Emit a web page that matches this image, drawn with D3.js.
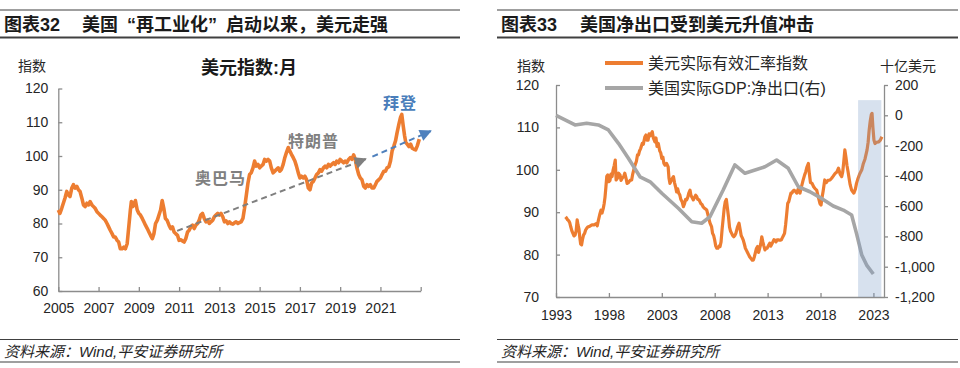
<!DOCTYPE html>
<html><head><meta charset="utf-8">
<script src="https://cdn.jsdelivr.net/npm/d3@7"></script>
<style>
body{margin:0;background:#fff}
svg{display:block}
text{font-family:"Liberation Sans","Noto Sans CJK SC",sans-serif}
</style>
</head><body>
<svg id="c" width="960" height="368"></svg>
<script>
// ---------- DATA ----------
// Left chart: US dollar index (monthly), [year position, value]
const usdIndex = [
[2005.00,84.0],[2005.08,83.0],[2005.17,84.5],[2005.25,86.0],[2005.33,87.5],[2005.42,89.5],[2005.50,88.5],[2005.58,88.0],[2005.67,90.5],[2005.75,91.5],[2005.83,90.5],[2005.92,91.0],
[2006.00,90.0],[2006.08,89.5],[2006.17,87.5],[2006.25,85.5],[2006.33,85.0],[2006.42,86.0],[2006.50,85.5],[2006.58,86.5],[2006.67,85.5],[2006.75,85.0],[2006.83,84.5],[2006.92,83.5],
[2007.00,83.0],[2007.08,82.5],[2007.17,82.0],[2007.25,81.5],[2007.33,81.0],[2007.42,80.0],[2007.50,79.0],[2007.58,78.0],[2007.67,77.0],[2007.75,76.0],[2007.83,76.0],[2007.92,75.0],
[2008.00,74.5],[2008.08,72.5],[2008.17,72.5],[2008.25,73.0],[2008.33,72.5],[2008.42,74.0],[2008.50,79.0],[2008.58,84.0],[2008.63,86.5],[2008.70,85.0],[2008.75,85.5],[2008.83,86.8],[2008.92,84.0],
[2009.00,83.0],[2009.08,82.5],[2009.17,81.5],[2009.25,80.5],[2009.33,79.5],[2009.42,78.5],[2009.50,77.5],[2009.58,76.5],[2009.67,75.5],[2009.75,77.0],[2009.83,80.0],[2009.92,81.0],
[2010.00,82.5],[2010.08,84.0],[2010.16,86.8],[2010.24,84.5],[2010.32,81.5],[2010.40,81.0],[2010.50,79.5],[2010.58,78.5],[2010.67,79.0],[2010.75,77.5],[2010.83,77.0],[2010.92,76.5],
[2011.00,75.0],[2011.08,75.2],[2011.17,74.8],[2011.25,74.5],[2011.33,75.5],[2011.42,77.5],[2011.50,78.0],[2011.58,79.0],[2011.67,79.5],[2011.75,78.5],[2011.83,79.5],[2011.92,80.0],
[2012.00,81.0],[2012.08,82.5],[2012.16,83.0],[2012.25,81.5],[2012.33,80.5],[2012.42,81.0],[2012.50,80.0],[2012.58,80.5],[2012.67,81.0],[2012.75,82.0],[2012.83,82.5],[2012.92,83.0],
[2013.00,82.5],[2013.08,83.0],[2013.17,82.0],[2013.25,80.5],[2013.33,80.8],[2013.42,80.0],[2013.50,80.5],[2013.58,80.0],[2013.67,79.8],[2013.75,80.2],[2013.83,80.5],[2013.92,80.0],
[2014.00,80.3],[2014.08,80.5],[2014.17,81.5],[2014.25,84.5],[2014.33,88.0],[2014.42,92.0],[2014.50,94.5],[2014.58,95.0],[2014.67,96.5],[2014.75,98.5],[2014.83,97.0],[2014.92,97.5],
[2015.00,96.5],[2015.08,97.0],[2015.17,97.5],[2015.25,99.0],[2015.33,98.5],[2015.42,99.0],[2015.50,98.5],[2015.58,96.5],[2015.67,95.0],[2015.75,95.5],[2015.83,96.0],[2015.92,96.5],
[2016.00,95.5],[2016.08,96.0],[2016.17,97.5],[2016.25,99.5],[2016.33,101.0],[2016.42,102.5],[2016.50,101.5],[2016.58,100.5],[2016.67,99.5],[2016.75,98.5],[2016.83,97.0],[2016.92,95.0],
[2017.00,93.5],[2017.08,94.0],[2017.17,93.5],[2017.25,94.0],[2017.33,93.0],[2017.42,90.5],[2017.50,90.0],[2017.58,92.0],[2017.67,92.5],[2017.75,93.5],[2017.83,94.5],[2017.92,95.0],
[2018.00,96.0],[2018.08,95.5],[2018.17,96.5],[2018.25,97.0],[2018.33,96.5],[2018.42,97.5],[2018.50,97.0],[2018.58,97.5],[2018.67,98.0],[2018.75,97.5],[2018.83,98.5],[2018.92,98.0],
[2019.00,99.0],[2019.08,98.5],[2019.17,98.0],[2019.25,98.5],[2019.33,98.0],[2019.42,99.0],[2019.50,99.5],[2019.58,99.0],[2019.67,100.3],[2019.75,99.0],[2019.83,96.5],[2019.92,94.5],
[2020.00,93.5],[2020.08,93.0],[2020.17,91.0],[2020.25,90.5],[2020.33,91.5],[2020.42,91.0],[2020.50,91.5],[2020.58,90.5],[2020.67,90.5],[2020.75,91.5],[2020.83,92.5],[2020.92,93.0],
[2021.00,93.5],[2021.08,94.5],[2021.17,95.5],[2021.25,95.5],[2021.33,96.5],[2021.42,96.8],[2021.50,98.5],[2021.58,101.5],[2021.67,103.0],[2021.75,104.5],[2021.83,107.0],[2021.92,109.5],
[2022.00,111.5],[2022.06,112.3],[2022.13,109.0],[2022.20,106.0],[2022.26,104.0],[2022.33,103.5],[2022.42,102.8],[2022.50,103.5],[2022.58,102.3],[2022.67,102.0],[2022.75,101.8],[2022.83,103.0],[2022.93,105.0]
];
const leftXTicks = [2005,2007,2009,2011,2013,2015,2017,2019,2021,2023];
const leftYTicks = [60,70,80,90,100,110,120];
// Annotations (data units): trend arrows and president labels
const trendArrows = [
  {from:[2010.9,77.8], to:[2020.27,99.1], color:"#7f7f7f"},
  {from:[2020.6,99.8], to:[2023.5,107.4], color:"#4f81bd"}
];
const presidentLabels = [
  {name:"奥巴马", at:[2011.79,91.7], color:"#808080"},
  {name:"特朗普", at:[2016.41,102.7], color:"#808080"},
  {name:"拜登",   at:[2021.13,113.9], color:"#4a7ebb"}
];

// Right chart: real effective USD index (left axis)
const reerIndex = [
[1993.90,88.9],[1994.00,88.6],[1994.10,88.2],[1994.20,88.0],[1994.30,87.5],[1994.40,86.5],[1994.50,85.6],[1994.60,85.0],[1994.70,84.4],[1994.80,84.6],[1994.90,85.5],
[1995.00,88.2],[1995.08,87.0],[1995.17,86.0],[1995.25,84.0],[1995.33,82.5],[1995.42,82.3],[1995.50,83.5],[1995.60,84.6],[1995.70,85.0],[1995.80,85.8],[1995.90,86.2],
[1996.00,86.5],[1996.20,86.7],[1996.40,87.0],[1996.60,87.0],[1996.80,87.3],[1996.90,86.8],[1997.00,88.0],[1997.16,89.7],[1997.25,90.5],[1997.35,89.8],[1997.47,90.9],
[1997.55,92.0],[1997.63,93.5],[1997.72,96.0],[1997.80,98.5],[1997.90,98.8],[1998.00,97.2],[1998.10,97.5],[1998.20,99.0],[1998.30,98.4],[1998.40,100.0],[1998.50,101.0],
[1998.60,102.3],[1998.68,97.6],[1998.80,98.0],[1998.92,99.2],[1999.05,98.8],[1999.15,97.5],[1999.25,98.0],[1999.40,98.4],[1999.50,99.2],[1999.62,98.0],[1999.72,96.8],
[1999.85,97.0],[2000.00,97.5],[2000.15,97.6],[2000.25,99.0],[2000.35,100.0],[2000.47,101.1],[2000.60,102.0],[2000.70,103.5],[2000.80,103.5],[2000.90,104.5],
[2001.00,105.0],[2001.15,106.2],[2001.25,106.0],[2001.40,107.8],[2001.50,108.2],[2001.60,107.0],[2001.70,107.0],[2001.80,108.5],[2001.90,108.0],[2002.00,108.5],
[2002.10,109.0],[2002.20,107.5],[2002.35,106.6],[2002.45,107.5],[2002.55,105.5],[2002.67,106.2],[2002.80,104.5],[2002.90,104.0],[2003.00,102.7],[2003.10,103.0],
[2003.20,101.5],[2003.30,101.1],[2003.45,101.5],[2003.60,100.7],[2003.68,98.0],[2003.77,96.8],[2003.90,97.5],[2004.00,98.0],[2004.10,98.4],[2004.20,97.0],
[2004.30,96.0],[2004.40,94.8],[2004.50,95.5],[2004.60,94.5],[2004.70,94.1],[2004.80,93.0],[2004.92,92.5],[2005.04,91.3],[2005.15,92.0],[2005.25,93.0],
[2005.35,92.9],[2005.45,93.5],[2005.55,94.5],[2005.67,95.2],[2005.75,94.0],[2005.85,93.5],[2005.98,92.9],[2006.10,93.5],[2006.20,94.0],[2006.30,93.7],
[2006.40,93.0],[2006.50,93.0],[2006.60,92.5],[2006.70,92.0],[2006.80,91.8],[2006.90,91.3],[2007.00,91.0],[2007.10,90.8],[2007.25,90.5],[2007.35,89.5],
[2007.45,88.5],[2007.55,87.5],[2007.70,86.6],[2007.80,85.0],[2007.90,84.5],[2008.00,83.4],[2008.10,82.0],[2008.20,81.5],[2008.30,81.5],[2008.40,82.0],
[2008.50,81.9],[2008.60,83.0],[2008.70,86.0],[2008.80,88.5],[2008.90,91.0],[2009.00,92.5],[2009.10,93.0],[2009.20,91.0],[2009.30,89.0],[2009.40,86.5],
[2009.50,85.5],[2009.60,85.0],[2009.70,84.5],[2009.80,84.2],[2009.90,84.5],[2010.00,85.0],[2010.15,86.5],[2010.30,87.4],[2010.40,86.0],[2010.50,84.5],
[2010.60,84.0],[2010.70,83.4],[2010.80,82.5],[2010.90,81.5],[2011.00,81.0],[2011.10,80.5],[2011.20,80.0],[2011.30,79.5],[2011.45,79.0],[2011.55,78.7],
[2011.65,78.7],[2011.75,79.5],[2011.85,80.5],[2011.95,81.5],[2012.05,81.9],[2012.15,80.5],[2012.25,81.5],[2012.35,82.5],[2012.45,84.2],[2012.55,83.0],
[2012.65,82.0],[2012.75,81.1],[2012.85,81.5],[2012.95,81.5],[2013.05,82.0],[2013.20,82.7],[2013.30,82.0],[2013.40,82.5],[2013.50,83.0],[2013.60,83.5],
[2013.70,83.4],[2013.80,83.0],[2013.90,83.5],[2014.00,83.5],[2014.10,83.4],[2014.20,83.4],[2014.30,83.5],[2014.40,84.0],[2014.50,84.5],[2014.60,85.0],
[2014.70,87.0],[2014.80,89.5],[2014.90,92.1],[2015.00,92.5],[2015.10,93.5],[2015.20,94.5],[2015.30,94.5],[2015.40,95.0],[2015.50,95.2],[2015.60,95.0],
[2015.75,94.5],[2015.90,95.5],[2016.06,94.5],[2016.20,96.0],[2016.35,97.5],[2016.50,98.8],[2016.60,99.5],[2016.70,100.5],[2016.85,101.5],[2016.95,99.0],
[2017.05,97.0],[2017.20,96.8],[2017.35,96.0],[2017.50,95.5],[2017.64,95.2],[2017.75,94.0],[2017.85,93.0],[2017.95,92.0],[2018.05,91.7],[2018.15,93.5],
[2018.25,95.0],[2018.40,97.6],[2018.55,97.0],[2018.70,97.5],[2018.90,97.6],[2019.05,98.0],[2019.20,98.5],[2019.40,99.2],[2019.55,99.5],[2019.70,100.4],
[2019.85,99.0],[2020.00,98.4],[2020.10,99.5],[2020.20,102.0],[2020.30,104.7],[2020.40,103.0],[2020.50,101.0],[2020.60,99.6],[2020.70,98.0],[2020.80,96.5],
[2020.94,95.2],[2021.05,94.8],[2021.15,94.5],[2021.30,95.5],[2021.40,96.8],[2021.55,98.0],[2021.70,99.0],[2021.90,100.0],[2022.05,101.5],[2022.20,102.5],
[2022.40,104.7],[2022.50,106.5],[2022.60,109.4],[2022.70,111.5],[2022.80,113.0],[2022.87,113.3],[2022.95,110.0],[2023.05,107.0],[2023.15,106.2],
[2023.30,106.5],[2023.50,106.6],[2023.65,107.0],[2023.80,107.8]
];
// Right chart: US real GDP net exports, billion USD (right axis)
const netExports = [
[1993.0,0],[1994.8,-64],[1995.9,-53],[1997.0,-64],[1997.95,-97],[1998.9,-185],[1999.84,-284],[2000.94,-406],[2001.9,-439],
[2003.0,-515],[2004.56,-614],[2005.83,-703],[2006.77,-713],[2007.55,-670],[2008.8,-493],[2009.9,-328],[2010.86,-383],
[2012.75,-340],[2013.85,-295],[2014.95,-350],[2015.9,-472],[2017.0,-505],[2018.1,-549],[2019.2,-599],[2020.15,-626],
[2020.94,-659],[2021.4,-780],[2021.9,-923],[2022.36,-989],[2022.99,-1048]
];
const rightXTicks = [1993,1998,2003,2008,2013,2018,2023];
const rightYTicksL = [70,80,90,100,110,120];
const rightYTicksR = [-1200,-1000,-800,-600,-400,-200,0,200];
const shadedPeriod = {from:2021.55, to:2023.75, top:100};
const legendNames = ["美元实际有效汇率指数","美国实际GDP:净出口(右)"];

// ---------- DRAW ----------
const svg = d3.select("#c");
svg.append("rect").attr("width",960).attr("height",368).attr("fill","#fff");
const AX = "#8c8c8c", TXT = "#262626", ORANGE = "#ed7d31", GRAY = "#a6a6a6";
const fmt = d3.formatLocale({decimal:".",thousands:",",grouping:[3],currency:["",""],minus:"-"}).format(",d");

function styleAxis(g){
  g.selectAll(".domain").attr("stroke",AX).attr("stroke-width",1.3);
  g.selectAll(".tick line").attr("stroke",AX).attr("stroke-width",1.3);
  g.selectAll(".tick text").attr("fill",TXT).attr("font-size",14)
   .attr("font-family","'Liberation Sans',Arial,sans-serif");
}

// title pieces: [text, dx before]
function header(x0, x1, num, titleParts, tx){
  svg.append("line").attr("x1",x0).attr("x2",x1).attr("y1",10).attr("y2",10).attr("stroke","#404040").attr("stroke-width",1.2);
  svg.append("line").attr("x1",x0).attr("x2",x1).attr("y1",37.5).attr("y2",37.5).attr("stroke","#404040").attr("stroke-width",2);
  svg.append("text").attr("x",x0+4).attr("y",31).attr("font-size",18).attr("font-weight","bold").attr("fill","#1a1a1a")
    .attr("font-family","'Noto Sans CJK SC','Liberation Sans',sans-serif").text(num);
  const t = svg.append("text").attr("x",tx).attr("y",31).attr("font-size",18).attr("font-weight","bold").attr("fill","#1a1a1a")
    .attr("font-family","'Noto Sans CJK SC',sans-serif");
  titleParts.forEach(p => t.append("tspan").attr("dx",p[1]).text(p[0]));
  svg.append("line").attr("x1",x0).attr("x2",x1).attr("y1",339.5).attr("y2",339.5).attr("stroke","#404040").attr("stroke-width",1.2);
  svg.append("line").attr("x1",x0).attr("x2",x1).attr("y1",362).attr("y2",362).attr("stroke","#404040").attr("stroke-width",1.2);
  svg.append("text").attr("x",x0+4).attr("y",357).attr("font-size",15).attr("font-style","italic").attr("fill","#262626")
    .text("资料来源：Wind,平安证券研究所");
}
header(0,460,"图表32",[["美国",0],["“",9],["再工业化",0],["”",0],["启动以来，美元走强",9]],82);
header(497,958,"图表33",[["美国净出口受到美元升值冲击",0]],580);

// ----- Left chart -----
const xL = d3.scaleLinear().domain([2005,2023]).range([58.3,420.7]);
const yL = d3.scaleLinear().domain([60,120]).range([291,88.5]);

svg.append("g").attr("transform",`translate(58.3,0)`)
  .call(d3.axisLeft(yL).tickValues(leftYTicks).tickSizeInner(-4).tickSizeOuter(0).tickPadding(10))
  .call(styleAxis);
svg.append("g").attr("transform",`translate(0,291)`)
  .call(d3.axisBottom(xL).tickValues(leftXTicks).tickSizeInner(-4).tickSizeOuter(0).tickPadding(12)
    .tickFormat(d => d===2023 ? "" : d3.format("d")(d)))
  .call(styleAxis);

svg.append("text").attr("x",18).attr("y",71).attr("font-size",14).attr("fill",TXT).text("指数");
svg.append("text").attr("x",249).attr("y",74).attr("text-anchor","middle").attr("font-size",18)
  .attr("font-weight","bold").attr("fill","#1a1a1a").text("美元指数:月");

const lineL = d3.line().x(d=>xL(d[0])).y(d=>yL(d[1]));
svg.append("path").datum(usdIndex).attr("d",lineL).attr("fill","none").attr("stroke",ORANGE)
  .attr("stroke-width",3.6).attr("stroke-linejoin","round");

// arrows
const defs = svg.append("defs");
trendArrows.forEach((a,i)=>{
  defs.append("marker").attr("id","ah"+i).attr("viewBox","0 0 10 10").attr("refX",9).attr("refY",5)
    .attr("markerWidth",7).attr("markerHeight",6).attr("markerUnits","strokeWidth").attr("orient","auto")
    .append("path").attr("d","M0,0 L10,5 L0,10 z").attr("fill",a.color);
  svg.append("line").attr("x1",xL(a.from[0])).attr("y1",yL(a.from[1]))
    .attr("x2",xL(a.to[0])).attr("y2",yL(a.to[1]))
    .attr("stroke",a.color).attr("stroke-width",2).attr("stroke-dasharray","6,4")
    .attr("marker-end",`url(#ah${i})`);
});
presidentLabels.forEach(p=>{
  svg.append("text").attr("x",xL(p.at[0])).attr("y",yL(p.at[1])).attr("font-size",16).attr("font-weight","bold")
    .attr("fill",p.color).attr("letter-spacing",1).attr("font-family","'Noto Sans CJK SC',sans-serif").text(p.name);
});

// ----- Right chart -----
const xR = d3.scaleLinear().domain([1993,2024]).range([556,884]);
const yRL = d3.scaleLinear().domain([70,120]).range([297,85]);
const yRR = d3.scaleLinear().domain([-1200,200]).range([297,85]);

svg.append("g").attr("transform",`translate(556,0)`)
  .call(d3.axisLeft(yRL).tickValues(rightYTicksL).tickSizeInner(-4).tickSizeOuter(0).tickPadding(17))
  .call(styleAxis);
svg.append("g").attr("transform",`translate(884,0)`)
  .call(d3.axisRight(yRR).tickValues(rightYTicksR).tickSizeInner(4).tickSizeOuter(0).tickPadding(7).tickFormat(fmt))
  .call(styleAxis);
svg.append("g").attr("transform",`translate(0,297)`)
  .call(d3.axisBottom(xR).tickValues(rightXTicks).tickSizeInner(-4).tickSizeOuter(0).tickPadding(13)
    .tickFormat(d3.format("d")))
  .call(styleAxis);

svg.append("text").attr("x",517).attr("y",71).attr("font-size",14).attr("fill",TXT).text("指数");
svg.append("text").attr("x",880).attr("y",71).attr("font-size",14).attr("fill",TXT).text("十亿美元");

const lineRL = d3.line().x(d=>xR(d[0])).y(d=>yRL(d[1]));
const lineRR = d3.line().x(d=>xR(d[0])).y(d=>yRR(d[1]));
svg.append("path").datum(reerIndex).attr("d",lineRL).attr("fill","none").attr("stroke",ORANGE)
  .attr("stroke-width",3.2).attr("stroke-linejoin","round");
svg.append("path").datum(netExports).attr("d",lineRR).attr("fill","none").attr("stroke",GRAY)
  .attr("stroke-width",3.6).attr("stroke-linejoin","round");

svg.append("rect").attr("x",xR(shadedPeriod.from)).attr("y",yRR(shadedPeriod.top))
  .attr("width",xR(shadedPeriod.to)-xR(shadedPeriod.from)).attr("height",yRR(-1200)-yRR(shadedPeriod.top))
  .attr("fill","#7a9bc6").attr("fill-opacity",0.3);

// legend
[[ORANGE,63],[GRAY,88]].forEach((c,i)=>{
  svg.append("line").attr("x1",605).attr("x2",643).attr("y1",c[1]).attr("y2",c[1]).attr("stroke",c[0]).attr("stroke-width",4);
  svg.append("text").attr("x",648).attr("y",c[1]+6).attr("font-size",16).attr("fill",TXT).text(legendNames[i]);
});
</script>
</body></html>
